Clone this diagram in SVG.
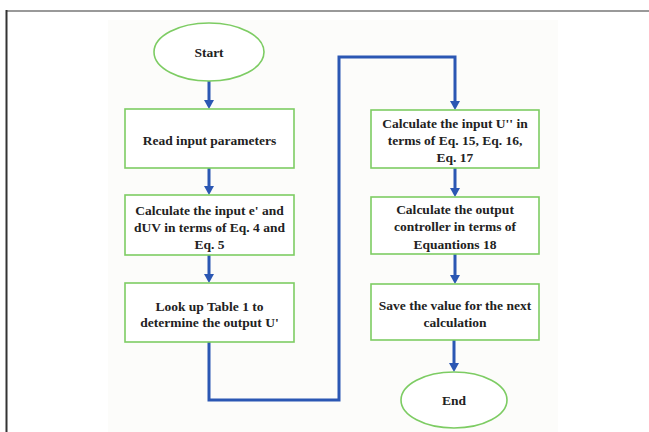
<svg xmlns="http://www.w3.org/2000/svg" width="649" height="432" viewBox="0 0 649 432">
<style>
.node{fill:#ffffff;stroke:#7dcc63;stroke-width:1.6}
.t{font-family:"Liberation Serif","Times New Roman",serif;font-weight:bold;font-size:13.5px;fill:#222;text-anchor:middle}
.c{fill:none;stroke:#2b57b3;stroke-width:3}
</style>
<defs>
<marker id="ah" markerWidth="10" markerHeight="10" refX="5" refY="8" orient="auto" markerUnits="userSpaceOnUse" viewBox="0 0 10 10">
<path d="M0,0 L10,0 L5,9 Z" fill="#2b57b3" transform="rotate(-90 5 5)"/>
</marker>
</defs>
<rect x="0" y="0" width="649" height="432" fill="#ffffff"/>
<rect x="108" y="20" width="450" height="412" fill="#fcfcfa"/>
<line x1="6" y1="11" x2="649" y2="11" stroke="#999" stroke-width="2"/>
<line x1="6.5" y1="10" x2="6.5" y2="432" stroke="#333" stroke-width="2"/>

<g id="connectors">
<path class="c" d="M209 81 V101"/>
<path d="M204 100 L214 100 L209 109 Z" fill="#2b57b3"/>
<path class="c" d="M209 168 V187"/>
<path d="M204 186 L214 186 L209 195 Z" fill="#2b57b3"/>
<path class="c" d="M209 255 V275"/>
<path d="M204 274 L214 274 L209 283 Z" fill="#2b57b3"/>
<path class="c" d="M209 342 V400 H339 V57 H455 V102"/>
<path d="M450 101 L460 101 L455 110 Z" fill="#2b57b3"/>
<path class="c" d="M455 168 V189"/>
<path d="M450 188 L460 188 L455 197 Z" fill="#2b57b3"/>
<path class="c" d="M455 254 V276"/>
<path d="M450 275 L460 275 L455 284 Z" fill="#2b57b3"/>
<path class="c" d="M454 340 V364"/>
<path d="M449 363 L459 363 L454 372 Z" fill="#2b57b3"/>
</g>

<g id="start">
<ellipse class="node" cx="209" cy="52" rx="55" ry="29"/>
<text class="t" x="209" y="57">Start</text>
</g>
<g id="read">
<rect class="node" x="125" y="109" width="169" height="59"/>
<text class="t" x="209.5" y="145">Read input parameters</text>
</g>
<g id="calc1">
<rect class="node" x="125" y="195" width="169" height="60"/>
<text class="t" x="209.5" y="214.5">Calculate the input e' and</text>
<text class="t" x="209.5" y="231.5">dUV in terms of Eq. 4 and</text>
<text class="t" x="209.5" y="248.5">Eq. 5</text>
</g>
<g id="lookup">
<rect class="node" x="125" y="283" width="169" height="59"/>
<text class="t" x="209.5" y="310.5">Look up Table 1 to</text>
<text class="t" x="209.5" y="327">determine the output U'</text>
</g>
<g id="calc2">
<rect class="node" x="371" y="110" width="168" height="58"/>
<text class="t" x="455" y="127.5">Calculate the input U'' in</text>
<text class="t" x="455" y="144.5">terms of Eq. 15, Eq. 16,</text>
<text class="t" x="455" y="161.5">Eq. 17</text>
</g>
<g id="calc3">
<rect class="node" x="371" y="197" width="168" height="57"/>
<text class="t" x="455" y="213.5">Calculate the output</text>
<text class="t" x="455" y="231">controller in terms of</text>
<text class="t" x="455" y="248.5">Equantions 18</text>
</g>
<g id="save">
<rect class="node" x="371" y="284" width="168" height="56"/>
<text class="t" x="455" y="309.5">Save the value for the next</text>
<text class="t" x="455" y="326.5">calculation</text>
</g>
<g id="end">
<ellipse class="node" cx="454" cy="400" rx="53" ry="28"/>
<text class="t" x="454" y="405">End</text>
</g>
</svg>
